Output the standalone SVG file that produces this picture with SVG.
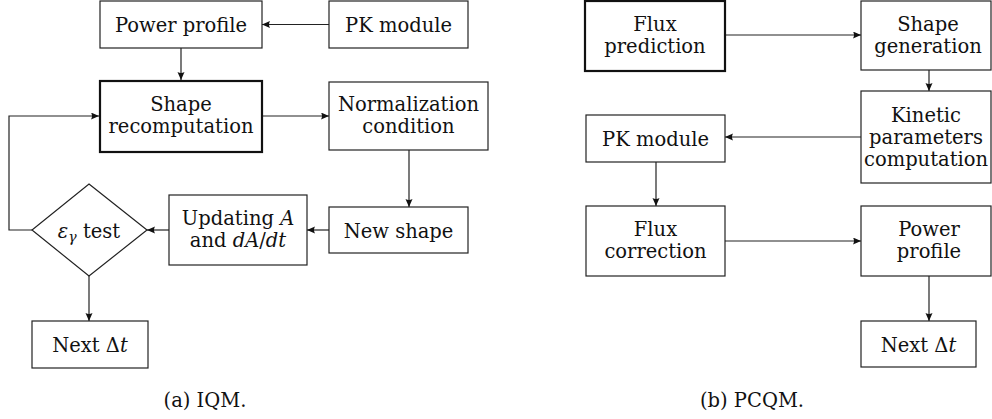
<svg xmlns="http://www.w3.org/2000/svg" width="992" height="419" viewBox="0 0 992 419">
<style>
.b{fill:#fff;stroke:#222;stroke-width:1.2}
.t{fill:#fff;stroke:#111;stroke-width:2.2}
.i{font-style:italic}
.c{fill:none;stroke:#222;stroke-width:1.2}
</style>
<defs>
<marker id="ah" markerUnits="userSpaceOnUse" markerWidth="10" markerHeight="8" refX="8" refY="3.5" orient="auto">
<path d="M0,0 L8,3.5 L0,7 Q2,3.5 0,0 z" fill="#111"/>
</marker>
</defs>
<rect width="992" height="419" fill="#fff"/>
<g id="connectors">
<line class="c" x1="329" y1="24.5" x2="262" y2="24.5" marker-end="url(#ah)"/>
<line class="c" x1="181" y1="48" x2="181" y2="80" marker-end="url(#ah)"/>
<line class="c" x1="263" y1="116" x2="329" y2="116" marker-end="url(#ah)"/>
<line class="c" x1="409" y1="150" x2="409" y2="207" marker-end="url(#ah)"/>
<line class="c" x1="329" y1="230" x2="307" y2="230" marker-end="url(#ah)"/>
<line class="c" x1="169" y1="230" x2="147" y2="230" marker-end="url(#ah)"/>
<path class="c" d="M32,230 H9 V116 H99" marker-end="url(#ah)"/>
<line class="c" x1="89" y1="276" x2="89" y2="321" marker-end="url(#ah)"/>
<line class="c" x1="726" y1="35" x2="861" y2="35" marker-end="url(#ah)"/>
<line class="c" x1="929" y1="70" x2="929" y2="91" marker-end="url(#ah)"/>
<line class="c" x1="861" y1="137" x2="725" y2="137" marker-end="url(#ah)"/>
<line class="c" x1="656" y1="162" x2="656" y2="206" marker-end="url(#ah)"/>
<line class="c" x1="725" y1="241" x2="861" y2="241" marker-end="url(#ah)"/>
<line class="c" x1="929" y1="276" x2="929" y2="321" marker-end="url(#ah)"/>
</g>
<g font-family="DejaVu Serif" font-size="19.5" fill="#111" text-anchor="middle">
<g id="a-power-profile"><rect class="b" x="100" y="1" width="162" height="47"/><text x="181" y="31.5">Power profile</text></g>
<g id="a-pk-module"><rect class="b" x="329" y="1" width="139" height="47"/><text x="398.5" y="31.5">PK module</text></g>
<g id="a-shape-recomputation"><rect class="t" x="100" y="81" width="162" height="71"/><text x="181" y="110.5">Shape<tspan x="181" dy="22">recomputation</tspan></text></g>
<g id="a-normalization"><rect class="b" x="329" y="82" width="159" height="68"/><text x="408.5" y="110.5">Normalization<tspan x="408.5" dy="22">condition</tspan></text></g>
<g id="a-new-shape"><rect class="b" x="329" y="207" width="139" height="46"/><text x="398.5" y="237.5">New shape</text></g>
<g id="a-updating"><rect class="b" x="169" y="195" width="138" height="70"/><text x="238" y="224.5">Updating <tspan class="i">A</tspan><tspan x="238" dy="22">and </tspan><tspan class="i">dA</tspan>/<tspan class="i">dt</tspan></text></g>
<g id="a-test"><polygon class="b" points="89,184 147,230 89,276 32,230"/><text x="89" y="237.5"><tspan class="i">ε</tspan><tspan class="i" font-size="14" dy="4">γ</tspan><tspan dy="-4"> test</tspan></text></g>
<g id="a-next"><rect class="b" x="32" y="321" width="116" height="47"/><text x="90" y="352">Next Δ<tspan class="i">t</tspan></text></g>
<text id="caption-a" x="205" y="407">(a) IQM.</text>
<g id="b-flux-prediction"><rect class="t" x="585" y="1" width="140" height="70"/><text x="655" y="30.5">Flux<tspan x="655" dy="22">prediction</tspan></text></g>
<g id="b-shape-generation"><rect class="b" x="861" y="1" width="130" height="69"/><text x="928" y="30.5">Shape<tspan x="928" dy="22">generation</tspan></text></g>
<g id="b-kinetic"><rect class="b" x="861" y="91" width="130" height="92"/><text x="926" y="122">Kinetic<tspan x="926" dy="22">parameters</tspan><tspan x="926" dy="22">computation</tspan></text></g>
<g id="b-pk-module"><rect class="b" x="586" y="115" width="139" height="47"/><text x="655.5" y="145.5">PK module</text></g>
<g id="b-flux-correction"><rect class="b" x="586" y="206" width="139" height="70"/><text x="655.5" y="235.5">Flux<tspan x="655.5" dy="22">correction</tspan></text></g>
<g id="b-power-profile"><rect class="b" x="861" y="206" width="130" height="70"/><text x="929" y="235.5">Power<tspan x="929" dy="22">profile</tspan></text></g>
<g id="b-next"><rect class="b" x="861" y="321" width="115" height="46"/><text x="918.5" y="351.5">Next Δ<tspan class="i">t</tspan></text></g>
<text id="caption-b" x="752" y="407">(b) PCQM.</text>
</g>
</svg>
